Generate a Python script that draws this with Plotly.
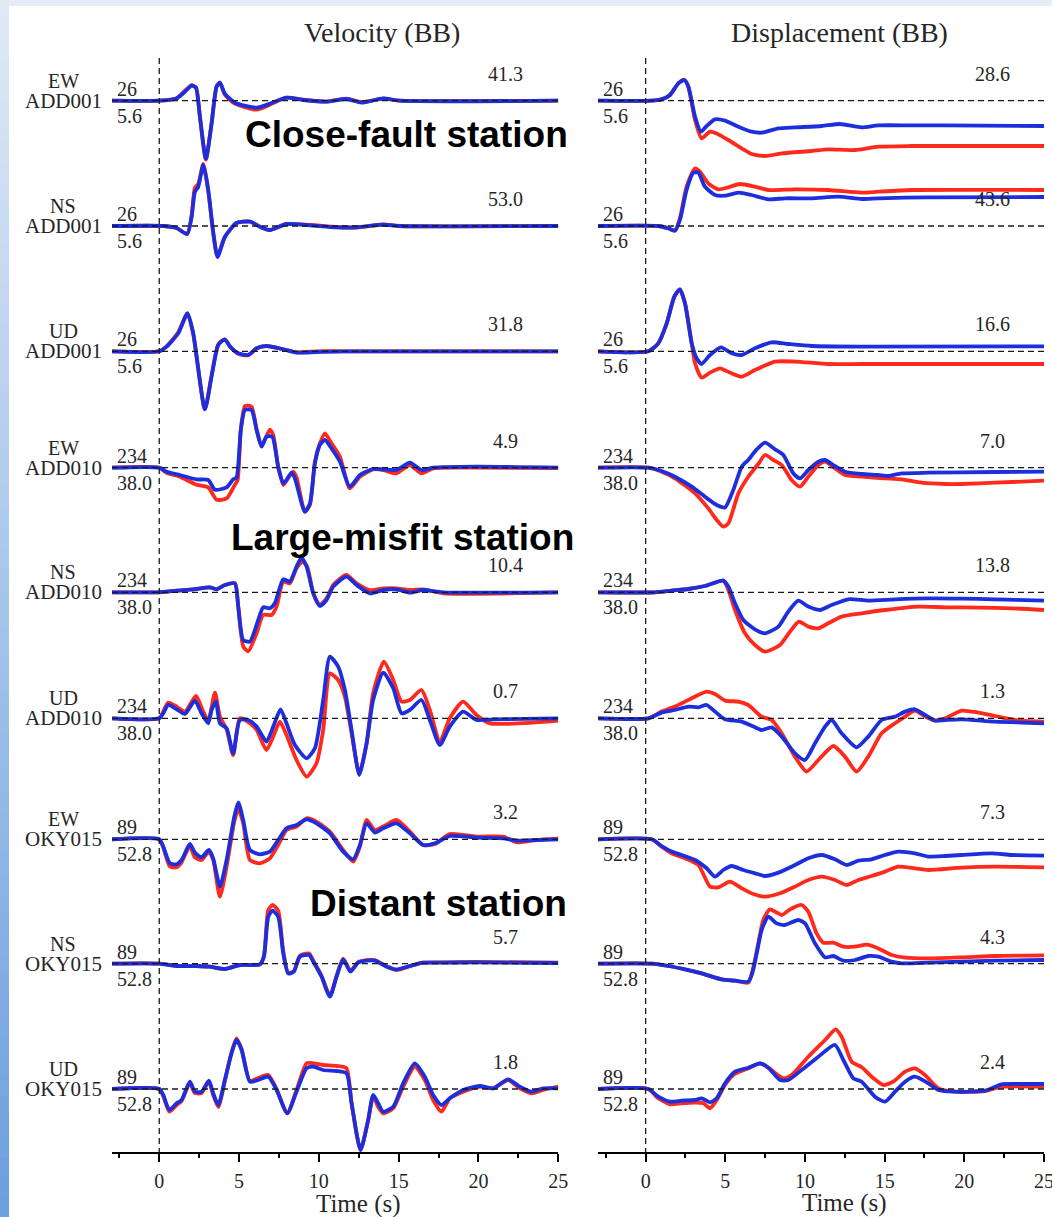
import plotly.graph_objects as go

# ---------------------------------------------------------------------------
# Waveform samples: time (s) and normalised amplitude (display units, ~60 at
# the trace peak).  OBS = observed record (red), SYN = synthetic (blue).
# ---------------------------------------------------------------------------

# ---- Velocity, ADD001 ------------------------------------------------------
VEL_EW_ADD001_T = [-3, 0, 1.09, 1.61, 2.03, 2.30, 2.55, 2.92, 3.28, 3.59, 3.80, 4.11,
                   4.74, 6.10, 6.93, 7.97, 9.02, 10.48, 11.73, 12.67, 14.03, 15.07, 25]
VEL_EW_ADD001_OBS = [0, 0, 2.5, 10, 15.5, 13, -17, -59, -22, 14, 18, 6,
                     -3, -9, -4, 3, 1, -1, 2, -1.5, 2, 0, 0]
VEL_EW_ADD001_SYN = [0, 0, 2.3, 9, 15, 13, -16, -58, -23, 14, 18, 7,
                     -2, -7, -3, 3, 0.7, -1, 1.7, -2, 2.3, 0, 0]

VEL_NS_ADD001_T = [-3, 0.3, 1.09, 1.75, 2.03, 2.23, 2.44, 2.76, 3.07, 3.38, 3.65, 4.11,
                   4.84, 5.68, 6.30, 6.93, 7.97, 9.44, 11.11, 12.36, 14.03, 15.07, 25]
VEL_NS_ADD001_OBS = [0, 0, -2, -8, 11, 38, 42, 62, 35, -7, -30, -11,
                     3, 4.5, -0.5, -4, 2, 1, -1, -1.5, 1.5, 0, 0]
VEL_NS_ADD001_SYN = [0, 0, -2, -8, 9, 34, 39, 61, 36, -6, -31, -11,
                     3, 4.3, -0.7, -4, 2, 0.7, -1.3, -1.3, 1.3, 0, 0]

VEL_UD_ADD001_T = [-3, 0, 0.46, 1.19, 1.77, 2.13, 2.86, 3.28, 3.70, 4.11, 4.43, 4.95,
                   5.57, 6.10, 6.72, 7.77, 8.60, 9.85, 11.52, 25]
VEL_UD_ADD001_OBS = [0, 0, 5, 19, 38, 17, -58, -24, 7, 12, 5, -2.5,
                     -4, 3, 5.5, 2, -1, 0, 0, 0]
VEL_UD_ADD001_SYN = [0, 0, 4.7, 18, 38, 18, -58, -25, 6.3, 12, 4.7, -2,
                     -3.7, 3, 5.3, 2, -1.3, -0.7, 0, 0]

# ---- Velocity, ADD010 ------------------------------------------------------
VEL_EW_ADD010_T_OBS = [-3, 0, 0.46, 1.29, 2.34, 3.07, 3.59, 4.22, 4.74, 4.91, 5.11, 5.37,
                       5.78, 6.10, 6.41, 6.93, 7.14, 7.45, 7.77, 7.97, 8.39, 8.60, 9.12,
                       9.44, 9.75, 10.06, 10.38, 10.79, 11.32, 11.94, 12.57, 13.40, 14.03,
                       14.86, 15.70, 16.43, 17.16, 19.87, 25]
VEL_EW_ADD010_OBS = [0, 0, -5, -9, -17, -19.7, -32, -30.7, -17, -12.3, 38, 61.7,
                     61, 38.3, 21.7, 38, 32.7, 1, -17.3, -13, -4, -9.7, -44,
                     -37, 5.7, 24, 34.3, 24.3, 11, -20.7, -9, -1.7, -2.3,
                     -5.7, 2.7, -5.7, -0.7, 0, -0.3]
VEL_EW_ADD010_T_SYN = [-3, 0, 0.46, 1.29, 2.34, 3.07, 3.49, 4.22, 4.63, 4.84, 5.11, 5.37,
                       5.78, 6.10, 6.41, 6.72, 7.08, 7.45, 7.77, 7.97, 8.29, 8.50, 9.12,
                       9.44, 9.75, 10.06, 10.38, 10.79, 11.32, 11.94, 12.57, 13.40, 14.03,
                       14.86, 15.70, 16.43, 17.16, 19.87, 25]
VEL_EW_ADD010_SYN = [0, 0, -4, -7.3, -11.7, -12.3, -22, -19.7, -11.7, -9.7, 37.7, 57.7,
                     57.7, 37.7, 21, 31, 31, 1, -15.7, -12.3, -5, -10.7, -44,
                     -35.7, 4.3, 22.7, 27.7, 19.3, 6, -19, -7.3, -1.3, -1.7,
                     -2.3, 5, -2.3, 0, 1, 0]

VEL_NS_ADD010_T_OBS = [-3, 0, 1.09, 2.13, 3.17, 3.59, 4.11, 4.74, 4.95, 5.26, 5.57, 6.10,
                       6.51, 7.04, 7.35, 7.77, 8.18, 8.60, 8.98, 9.27, 9.65, 10.06, 10.48,
                       10.90, 11.73, 12.36, 13.19, 14.03, 14.86, 15.70, 16.53, 17.79, 25]
VEL_NS_ADD010_OBS = [0, 0, 1.7, 3, 5, 3, 7.3, 9, -15, -54, -59, -41,
                     -22.7, -22.7, -14.3, 10.7, 9, 24, 30.7, 25.7, -1, -12.7, -6,
                     7.3, 17.3, 9, 2.3, 4, 4, 2.3, 3, -1, 0]
VEL_NS_ADD010_T_SYN = [-3, 0, 1.09, 2.13, 3.17, 3.59, 4.11, 4.74, 4.95, 5.26, 5.68, 6.20,
                       6.51, 6.93, 7.24, 7.77, 8.18, 8.60, 8.91, 9.23, 9.65, 10.06, 10.48,
                       10.90, 11.73, 12.36, 13.19, 14.03, 14.86, 15.70, 16.53, 17.79, 25]
VEL_NS_ADD010_SYN = [0, 0, 1.7, 3, 5, 3, 7.3, 9, -14.3, -47.7, -49.3, -27.7,
                     -15, -16, -11, 13, 10.7, 25.7, 34.7, 25.7, -1, -13.7, -7.7,
                     5.7, 15.7, 7.3, -1, 2.3, 3, -0.3, 2.3, 0, 0]

VEL_UD_ADD010_T_OBS = [-3, 0, 0.25, 0.56, 1.09, 1.61, 2.30, 2.71, 3.07, 3.49, 3.80, 4.22,
                       4.63, 5.05, 5.68, 6.10, 6.72, 7.14, 7.56, 7.97, 8.60, 9.23, 9.85,
                       10.27, 10.69, 11.21, 11.63, 12.05, 12.53, 12.99, 13.40, 14.07, 14.66,
                       15.18, 15.70, 16.43, 16.95, 17.58, 18.20, 19.04, 19.87, 20.71, 25]
VEL_UD_ADD010_OBS = [0, 0, 6.7, 15.7, 11.7, 6.7, 22.3, 8.3, -2.3, 25.7, 1.7, -11,
                     -36.7, 0, -5, -11.7, -31.7, -18.3, -3.3, -16.7, -41.7, -58.3, -45,
                     -11.7, 45, 38.3, 21.7, -15, -55, -25, 25, 56.7, 38.3,
                     16.7, 18.3, 28.3, 8.3, -23.3, 0, 16.7, 3.3, -5, -2.3]
VEL_UD_ADD010_T_SYN = [-3, 0, 0.25, 0.56, 1.09, 1.61, 2.23, 2.65, 3.07, 3.28, 3.55, 3.80,
                       4.22, 4.63, 5.05, 5.57, 6.10, 6.72, 7.14, 7.60, 7.97, 8.50, 9.23,
                       9.75, 10.27, 10.69, 11.21, 11.63, 12.05, 12.53, 12.99, 13.40, 14.03,
                       14.66, 15.18, 15.70, 16.43, 16.95, 17.58, 18.20, 19.04, 19.87, 20.92, 25]
VEL_UD_ADD010_SYN = [0, 0, 5, 13.3, 9, 4.3, 17.7, 5, -5, 8.3, 16.7, -5,
                     -10, -35, -1.7, -1.7, -8.3, -23.3, -8.3, 9, -5, -26.7, -40,
                     -30, 18.3, 61.7, 51.7, 28.3, -11.7, -56.7, -25, 18.3, 45.7,
                     30, 5, 8.3, 18.3, -1.7, -26.7, -8.3, 6.7, -1.7, -1, 0]

# ---- Velocity, OKY015 ------------------------------------------------------
VEL_EW_OKY015_T = [-3, 0, 0.25, 0.67, 1.09, 1.40, 1.92, 2.23, 2.65, 3.11, 3.38, 3.80,
                   4.22, 4.68, 4.95, 5.26, 5.68, 6.30, 6.93, 7.45, 7.97, 8.60, 9.23,
                   9.85, 10.69, 11.52, 12.15, 12.57, 12.99, 13.51, 14.03, 14.86, 15.70,
                   16.53, 17.27, 18.20, 19.87, 21.55, 22.38, 23.63, 25]
VEL_EW_OKY015_OBS = [0, 0, -8, -27.3, -28, -23, -6.7, -18, -20.7, -12.3, -20.7, -57.3,
                     -27.3, 16, 31, 16, -20.7, -24, -19, -5.7, 9.3, 12.7, 21,
                     17.7, 7.7, -10.7, -22.3, -7.3, 19.3, 9.3, 12.7, 19.3, 7.7,
                     -5.7, -4.7, 5.3, 2.7, 2.7, -3, -0.7, 0.7]
VEL_EW_OKY015_SYN = [0, 0, -7.3, -24, -25, -20.7, -4.7, -13.3, -18, -10.7, -19, -47.3,
                     -20.7, 21, 37, 19.3, -10.7, -15, -12.3, -0.7, 11, 14.3, 20,
                     16, 6, -12.3, -20, -5.7, 16, 6.7, 11, 16, 6,
                     -5.7, -4, 3.3, 1.7, 1, -1.3, -0.7, 0]

VEL_NS_OKY015_T = [-3, 0, 1.09, 2.34, 3.17, 4.11, 5.05, 6.30, 6.56, 6.83, 7.10, 7.45,
                   7.77, 8.08, 8.43, 8.81, 9.39, 9.65, 10.17, 10.69, 11.11, 11.52, 11.98,
                   12.46, 12.99, 13.51, 14.24, 14.86, 15.70, 16.53, 17.79, 19.87, 25]
VEL_NS_OKY015_OBS = [0, 0, -2.3, -2.3, -3, -5.3, -1.3, -0.7, 8, 53.7, 58.7, 53,
                     12, -9, -7.5, 8, 10.3, 3, -12, -32, -12, 5, -7,
                     1.5, 3.5, 3.5, -2.5, -6.3, -2.5, 1, 1.3, 1.7, 1]
VEL_NS_OKY015_SYN = [0, 0, -2.3, -2.3, -3, -5.3, -1.3, -0.7, 7, 47, 53, 47,
                     10.3, -9.7, -8, 7, 8.7, 2, -13, -33, -13, 4.3, -8,
                     1, 3, 3, -3, -5.7, -2.3, 1, 1, 1.3, 0.7]

VEL_UD_OKY015_T = [-3, 0, 0.25, 0.63, 1.09, 1.40, 1.92, 2.23, 2.65, 3.11, 3.38, 3.70,
                   4.11, 4.53, 4.84, 5.16, 5.68, 6.20, 6.83, 7.35, 8.02, 8.60, 9.23,
                   9.65, 10.27, 11.11, 11.73, 12.05, 12.61, 13.09, 13.40, 13.72, 14.03,
                   14.66, 15.28, 16.01, 16.64, 17.16, 17.68, 18.20, 19.04, 20.08, 20.92,
                   21.86, 22.59, 23.32, 24.05, 25]
VEL_UD_OKY015_OBS = [0, 0, -7, -22.7, -16, -12, 6, -4, -4, 7, -6, -18,
                     8, 37, 50.7, 40, 8, 11, 14, 0, -24.3, -1, 25.7,
                     25.7, 24, 23, 20.7, -14.3, -61, -31, -7.7, -18, -24.3,
                     -19.3, 2.3, 22.3, 9, -11, -22.7, -9.3, -2.7, 2.3, 0.7,
                     9, 0.7, -4.3, -1, 2.3]
VEL_UD_OKY015_SYN = [0, 0, -6, -21, -14.3, -11, 7.3, -2.7, -2.7, 8.3, -4.3, -16,
                     9, 35.7, 49, 39, 7.3, 9, 12.3, -1, -24.3, -2.7, 20.7,
                     22.3, 19, 18, 15.7, -14.3, -61, -31, -6, -14.3, -22.7,
                     -17.7, 5.7, 25.7, 12.3, -6, -16, -9.3, -1, 3, 0.7,
                     9.7, 2.3, -2.7, 0.7, 0.7]

# ---- Displacement, ADD001 --------------------------------------------------
DIS_EW_ADD001_T_OBS = [-3, 0.38, 1.00, 1.53, 2.05, 2.43, 2.68, 3.10, 3.51, 4.04, 4.46,
                       5.19, 6.03, 6.65, 7.49, 8.54, 10.42, 11.46, 13.14, 14.60, 16.69, 25]
DIS_EW_ADD001_OBS = [0, 0, 1.3, 5.7, 17.3, 20.7, 14, -19.3, -37.7, -31, -32.7,
                     -39.3, -47.7, -53.3, -55.3, -52.7, -50.3, -48.7, -49.3, -46, -45.3, -45.3]
DIS_EW_ADD001_T_SYN = [-3, 0.38, 1.00, 1.53, 2.05, 2.43, 2.68, 3.10, 3.47, 3.83, 4.35,
                       4.98, 5.82, 6.65, 7.28, 8.33, 9.37, 11.05, 12.20, 13.56, 14.60,
                       16.69, 18.79, 25]
DIS_EW_ADD001_SYN = [0, 0, 1.3, 5.7, 17.3, 20.7, 14, -16, -31, -25.3, -18.7,
                     -20, -26, -31, -32, -27.7, -26.7, -25.3, -23.3, -26.7, -24.7,
                     -24.7, -24.7, -25.3]

DIS_NS_ADD001_T_OBS = [-3, 0.79, 1.42, 1.84, 2.15, 2.57, 3.10, 3.41, 3.93, 4.56, 5.19,
                       5.92, 6.86, 7.70, 9.37, 11.46, 13.56, 14.60, 16.69, 25]
DIS_NS_ADD001_OBS = [0, 0, -2.3, -4.7, 7.7, 39.3, 57.7, 54.3, 42.7, 36.7, 38.7,
                     42, 39.3, 36, 36.7, 36, 33.3, 34.3, 36, 36]
DIS_NS_ADD001_T_SYN = [-3, 0.79, 1.42, 1.84, 2.15, 2.57, 2.99, 3.31, 3.72, 4.35, 4.98,
                       5.82, 6.65, 7.70, 8.74, 10.42, 12.09, 13.56, 14.60, 17.74, 25]
DIS_NS_ADD001_SYN = [0, 0, -2.3, -4.7, 6, 36, 53.3, 53.3, 39.3, 31, 30.3,
                     33.3, 31, 26.7, 27.7, 27.7, 29.3, 27, 27.7, 28.7, 29]

DIS_UD_ADD001_T_OBS = [-3, 0.17, 0.79, 1.32, 1.80, 2.15, 2.47, 2.89, 3.10, 3.51, 4.04,
                       4.67, 5.29, 6.03, 6.86, 8.12, 9.37, 11.46, 13.56, 25]
DIS_UD_ADD001_OBS = [0, 0, 8, 28, 54.7, 62, 48, 8, -12, -26.3, -21.3,
                     -17, -21.3, -25.3, -18.7, -10.3, -10.3, -12.7, -12.7, -12.7]
DIS_UD_ADD001_T_SYN = [-3, 0.17, 0.79, 1.32, 1.80, 2.15, 2.47, 2.89, 3.20, 3.51, 4.04,
                       4.73, 5.40, 6.03, 6.86, 7.91, 8.95, 10.42, 13.56, 25]
DIS_UD_ADD001_SYN = [0, 0, 8, 28, 54.7, 62, 48, 8, -7, -12.7, -3.7,
                     4, -2, -3.7, 3, 9, 7.3, 5.3, 4.7, 5]

# ---- Displacement, ADD010 --------------------------------------------------
DIS_EW_ADD010_T_OBS = [-3, 0.17, 1.00, 1.84, 3.10, 3.93, 4.46, 4.87, 5.19, 5.82, 6.44,
                       7.07, 7.49, 8.01, 8.54, 9.16, 9.69, 10.21, 10.84, 11.26, 11.88,
                       12.51, 13.56, 15.02, 16.07, 17.32, 18.79, 19.83, 21.92, 25]
DIS_EW_ADD010_OBS = [0, 0, -4, -10.7, -25.7, -40.7, -52.3, -59, -55.7, -25.7, -9,
                     3.7, 12.7, 7.7, 2.7, -12.3, -19, -9, 2.7, 6, -0.7,
                     -7.3, -9, -10.7, -11.7, -15, -16.3, -16.3, -15, -13]
DIS_EW_ADD010_T_SYN = [-3, 0.17, 1.00, 1.84, 2.89, 3.72, 4.46, 4.98, 5.50, 6.03, 6.44,
                       6.97, 7.49, 8.12, 8.64, 9.27, 9.69, 10.21, 10.84, 11.26, 11.88,
                       12.51, 13.56, 14.60, 15.23, 16.07, 17.74, 21.92, 25]
DIS_EW_ADD010_SYN = [0, 0, -3.3, -9, -19, -29, -37.3, -39.7, -22.3, 1, 7.7,
                     18.3, 25, 18.3, 12.7, -5.7, -10.7, -2.3, 6, 7.7, 1.7,
                     -4, -6.3, -7.3, -8.3, -5.7, -5, -4.3, -4]

DIS_NS_ADD010_T_OBS = [-3, 0.59, 1.63, 2.68, 3.72, 4.87, 5.19, 5.61, 6.23, 6.86, 7.49,
                       8.43, 9.06, 9.62, 10.21, 10.84, 11.46, 12.30, 13.56, 15.02, 17.11,
                       18.79, 20.88, 22.97, 25]
DIS_NS_ADD010_OBS = [0, 0, 1.7, 3.3, 6.3, 11.7, 2.3, -17.7, -41, -52.7, -59.3,
                     -52.7, -39.3, -29.3, -34.3, -36, -31, -24.3, -21, -17.7, -14.3,
                     -15, -15.3, -16, -17.7]
DIS_NS_ADD010_T_SYN = [-3, 0.59, 1.63, 2.68, 3.72, 4.87, 5.19, 5.61, 6.13, 6.86, 7.49,
                       8.33, 8.95, 9.58, 10.21, 10.94, 11.67, 12.72, 13.97, 15.65, 17.74,
                       19.83, 21.92, 25]
DIS_NS_ADD010_SYN = [0, 0, 1.7, 3.3, 6.3, 11.7, 5.7, -11, -27.7, -37, -41,
                     -34.3, -19.3, -8.3, -14.3, -17.7, -12.7, -7, -8.3, -7, -6,
                     -6.3, -7, -8.3]

DIS_UD_ADD010_T_OBS = [-3, 0.17, 1.00, 1.84, 2.89, 3.83, 4.35, 4.98, 5.82, 6.44, 7.28,
                       7.91, 8.54, 9.37, 10.10, 10.84, 11.78, 12.51, 13.24, 13.97, 14.81,
                       15.65, 16.28, 16.90, 17.53, 18.16, 18.79, 19.83, 20.88, 21.92,
                       23.18, 25]
DIS_UD_ADD010_OBS = [0, 0, 6.7, 11.7, 20, 26.7, 24.3, 17.7, 16.7, 13.3, 1.7,
                     -1.7, -15, -38.3, -53.3, -41.7, -27.7, -38.3, -53.3, -38.3, -15,
                     -5, 1.7, 7.7, 2, -2.3, 0, 7.7, 5.7, 2.3,
                     -1.7, -3.3]
DIS_UD_ADD010_T_SYN = [-3, 0.17, 1.00, 1.84, 2.68, 3.31, 3.83, 4.35, 4.98, 6.03, 6.76,
                       7.28, 7.91, 8.54, 9.37, 10.00, 10.63, 11.26, 11.67, 12.30, 13.24,
                       13.97, 14.81, 15.65, 16.28, 16.90, 17.53, 18.16, 18.79, 19.83,
                       21.92, 25]
DIS_UD_ADD010_SYN = [0, 0, 5.7, 8.3, 11.7, 11, 13.3, 6.7, -1, -3.3, -8.3,
                     -11.7, -9, -18.3, -35, -41.7, -25, -8.3, -1.7, -15, -29,
                     -18.3, -1.7, 1.7, 6.7, 9, 3.3, -2.3, -1.7, -1,
                     -3.3, -5]

# ---- Displacement, OKY015 --------------------------------------------------
DIS_EW_OKY015_T_OBS = [-3, 0.38, 1.00, 1.63, 2.47, 3.31, 4.04, 4.56, 5.29, 6.03, 6.76,
                       7.49, 8.43, 9.37, 10.21, 11.05, 11.88, 12.62, 13.35, 14.18, 15.02,
                       15.86, 16.90, 17.74, 19.83, 21.92, 25]
DIS_EW_OKY015_OBS = [0, 0, -7.3, -14, -19, -25.7, -47.3, -48, -42.3, -49, -54.7,
                     -57.3, -54, -47.3, -40.7, -37.3, -40.7, -45.7, -40.7, -36.7, -32.3,
                     -27.3, -29, -30.7, -28.3, -27.3, -28]
DIS_EW_OKY015_T_SYN = [-3, 0.38, 1.00, 1.63, 2.26, 3.10, 3.83, 4.35, 4.87, 5.40, 6.13,
                       6.86, 7.49, 8.33, 9.37, 10.21, 11.05, 11.88, 12.62, 13.35, 14.18,
                       15.02, 15.86, 16.90, 17.74, 18.79, 19.83, 21.72, 22.97, 25]
DIS_EW_OKY015_SYN = [0, 0, -6.7, -12.3, -15.7, -20.7, -29, -37.3, -30.7, -26.7, -30.7,
                     -34, -36.7, -33.3, -25.7, -19, -15.7, -20, -25.7, -21.3, -20,
                     -15.7, -12.3, -14, -17.3, -16.7, -15.7, -14, -15.7, -16.3]

DIS_NS_OKY015_T_OBS = [-3, 0.38, 1.42, 2.47, 3.51, 4.77, 5.61, 6.44, 6.76, 7.07, 7.38,
                       7.80, 8.54, 9.06, 9.79, 10.21, 10.73, 11.15, 11.78, 12.41, 13.14,
                       13.87, 14.60, 15.44, 16.28, 17.74, 19.83, 21.92, 25]
DIS_NS_OKY015_OBS = [0, 0, -2.3, -5.7, -9.7, -15.7, -17, -19, -3.3, 20.3, 43.7,
                     54.3, 48.7, 54.3, 58.7, 52, 30.3, 21, 21, 17, 17,
                     19, 15.3, 8.7, 6, 5.3, 6.3, 7.7, 8.3]
DIS_NS_OKY015_T_SYN = [-3, 0.38, 1.42, 2.47, 3.51, 4.77, 5.61, 6.44, 6.69, 6.97, 7.28,
                       7.70, 8.22, 8.74, 9.58, 10.00, 10.63, 11.26, 11.78, 12.41, 13.14,
                       13.97, 14.60, 15.44, 16.07, 17.74, 19.83, 21.92, 25]
DIS_NS_OKY015_SYN = [0, 0, -2.3, -5.7, -9.7, -15.7, -17, -18, -9.7, 10.3, 33.7,
                     47, 40.3, 38.7, 43.7, 40.3, 20.3, 6.3, 7.7, 3, 3.7,
                     7.7, 7, 2, 0.3, 1, 2, 3, 3.7]

DIS_UD_OKY015_T_OBS = [-3, 0.17, 0.79, 1.53, 2.26, 3.10, 3.62, 4.04, 4.46, 4.98, 5.50,
                       6.44, 7.18, 7.70, 8.64, 9.16, 10.21, 11.26, 11.92, 12.30, 12.93,
                       13.56, 14.18, 14.92, 15.54, 16.28, 16.90, 17.53, 18.37, 19.41,
                       21.30, 22.34, 25]
DIS_UD_OKY015_OBS = [0, 0, -9.3, -15.3, -14.3, -13.7, -14.3, -19.3, -11, 4, 14,
                     20.7, 25.7, 21.3, 10.7, 14, 32.3, 49, 59.7, 52.3, 27.3,
                     21.7, 12.3, 4, 7.3, 17.3, 20.7, 14, 0.7, -2.7,
                     -2, 2.3, 2.3]
DIS_UD_OKY015_T_SYN = [-3, 0.17, 0.79, 1.53, 2.26, 3.10, 3.51, 4.04, 4.46, 4.98, 5.61,
                       6.44, 7.18, 7.70, 8.43, 8.95, 9.79, 10.84, 11.88, 12.41, 13.03,
                       13.56, 14.39, 15.02, 15.65, 16.28, 16.90, 17.74, 18.37, 19.41,
                       21.30, 22.34, 23.60, 25]
DIS_UD_OKY015_SYN = [0, 0, -7.7, -12.7, -11.7, -11, -9.3, -13.3, -9.3, 5.7, 17.3,
                     21.3, 25.7, 21.3, 9, 9, 19, 32.3, 44, 29, 10.7,
                     7.3, -7.7, -12.7, -2.7, 7.3, 12.3, 5.7, -1, -2.7,
                     -1.7, 4.7, 5, 5]

# ---- Row labels -------------------------------------------------------------
COMPONENTS = ["EW", "NS", "UD", "EW", "NS", "UD", "EW", "NS", "UD"]
STATIONS = ["ADD001", "ADD001", "ADD001", "ADD010", "ADD010", "ADD010",
            "OKY015", "OKY015", "OKY015"]
DIST_UPPER = ["26", "26", "26", "234", "234", "234", "89", "89", "89"]
DIST_LOWER = ["5.6", "5.6", "5.6", "38.0", "38.0", "38.0", "52.8", "52.8", "52.8"]
VEL_PEAK = ["41.3", "53.0", "31.8", "4.9", "10.4", "0.7", "3.2", "5.7", "1.8"]
DIS_PEAK = ["28.6", "43.6", "16.6", "7.0", "13.8", "1.3", "7.3", "4.3", "2.4"]
TIME_TICKS = [0, 5, 10, 15, 20, 25]
TIME_MINOR = [-2.5, 2.5, 7.5, 12.5, 17.5, 22.5]
GROUP_NOTES = ["Close-fault station", "Large-misfit station", "Distant station"]

# ---------------------------------------------------------------------------
# Layout constants (pixels in a 1052 x 1217 page)
# ---------------------------------------------------------------------------
W, H = 1052, 1217
AXIS_PX = 1152                     # bottom time axis line
ROW_BASE_PX = [100.7, 226, 351.3, 467.7, 592.3, 718.3, 839.3, 963.7, 1089]
LEFT_X = (112, 558.3)              # velocity column, pixel extent
RIGHT_X = (598, 1044)              # displacement column, pixel extent
X_RANGE_L = [-2.96, 25]
X_RANGE_R = [-2.99, 25]

RED = "#ff2a1c"
BLUE = "#1d2fdc"
TEXT = "#262626"
SERIF = "Liberation Serif, Times New Roman, serif"
SANS = "Liberation Sans, Arial, sans-serif"

VEL_PANELS = [
    (VEL_EW_ADD001_T, VEL_EW_ADD001_OBS, VEL_EW_ADD001_T, VEL_EW_ADD001_SYN),
    (VEL_NS_ADD001_T, VEL_NS_ADD001_OBS, VEL_NS_ADD001_T, VEL_NS_ADD001_SYN),
    (VEL_UD_ADD001_T, VEL_UD_ADD001_OBS, VEL_UD_ADD001_T, VEL_UD_ADD001_SYN),
    (VEL_EW_ADD010_T_OBS, VEL_EW_ADD010_OBS, VEL_EW_ADD010_T_SYN, VEL_EW_ADD010_SYN),
    (VEL_NS_ADD010_T_OBS, VEL_NS_ADD010_OBS, VEL_NS_ADD010_T_SYN, VEL_NS_ADD010_SYN),
    (VEL_UD_ADD010_T_OBS, VEL_UD_ADD010_OBS, VEL_UD_ADD010_T_SYN, VEL_UD_ADD010_SYN),
    (VEL_EW_OKY015_T, VEL_EW_OKY015_OBS, VEL_EW_OKY015_T, VEL_EW_OKY015_SYN),
    (VEL_NS_OKY015_T, VEL_NS_OKY015_OBS, VEL_NS_OKY015_T, VEL_NS_OKY015_SYN),
    (VEL_UD_OKY015_T, VEL_UD_OKY015_OBS, VEL_UD_OKY015_T, VEL_UD_OKY015_SYN),
]
DIS_PANELS = [
    (DIS_EW_ADD001_T_OBS, DIS_EW_ADD001_OBS, DIS_EW_ADD001_T_SYN, DIS_EW_ADD001_SYN),
    (DIS_NS_ADD001_T_OBS, DIS_NS_ADD001_OBS, DIS_NS_ADD001_T_SYN, DIS_NS_ADD001_SYN),
    (DIS_UD_ADD001_T_OBS, DIS_UD_ADD001_OBS, DIS_UD_ADD001_T_SYN, DIS_UD_ADD001_SYN),
    (DIS_EW_ADD010_T_OBS, DIS_EW_ADD010_OBS, DIS_EW_ADD010_T_SYN, DIS_EW_ADD010_SYN),
    (DIS_NS_ADD010_T_OBS, DIS_NS_ADD010_OBS, DIS_NS_ADD010_T_SYN, DIS_NS_ADD010_SYN),
    (DIS_UD_ADD010_T_OBS, DIS_UD_ADD010_OBS, DIS_UD_ADD010_T_SYN, DIS_UD_ADD010_SYN),
    (DIS_EW_OKY015_T_OBS, DIS_EW_OKY015_OBS, DIS_EW_OKY015_T_SYN, DIS_EW_OKY015_SYN),
    (DIS_NS_OKY015_T_OBS, DIS_NS_OKY015_OBS, DIS_NS_OKY015_T_SYN, DIS_NS_OKY015_SYN),
    (DIS_UD_OKY015_T_OBS, DIS_UD_OKY015_OBS, DIS_UD_OKY015_T_SYN, DIS_UD_OKY015_SYN),
]


def px_x(x):
    return x / W


def px_y(y):
    return 1 - y / H


fig = go.Figure()


def add_trace(t, amp, base, color, xa, ya):
    fig.add_trace(go.Scatter(
        x=t, y=[a - base for a in amp], xaxis=xa, yaxis=ya, mode="lines",
        line=dict(color=color, width=3.8, shape="spline", smoothing=0.6),
        hoverinfo="skip", showlegend=False))


for panels, xa, ya in ((VEL_PANELS, "x", "y"), (DIS_PANELS, "x2", "y2")):
    for base, (t_obs, a_obs, t_syn, a_syn) in zip(ROW_BASE_PX, panels):
        add_trace(t_obs, a_obs, base, RED, xa, ya)
        add_trace(t_syn, a_syn, base, BLUE, xa, ya)

shapes = []
# page background: light band on top, blue gradient strip on the left
shapes.append(dict(type="rect", xref="paper", yref="paper", x0=0, x1=1,
                   y0=px_y(6), y1=1, fillcolor="#e7edf6", line_width=0, layer="below"))
N_STRIP = 60
c_top = (222, 233, 246)
c_bot = (108, 160, 222)
for i in range(N_STRIP):
    f = i / (N_STRIP - 1)
    col = tuple(round(c_top[k] + (c_bot[k] - c_top[k]) * f) for k in range(3))
    shapes.append(dict(type="rect", xref="paper", yref="paper",
                       x0=0, x1=px_x(9),
                       y0=px_y(H * (i + 1) / N_STRIP) - 0.0005, y1=px_y(H * i / N_STRIP),
                       fillcolor="rgb(%d,%d,%d)" % col, line_width=0, layer="below"))

DASH = dict(color="#1a1a1a", width=1.3, dash="6px,4px")
for xa, ya, xr in (("x", "y", X_RANGE_L), ("x2", "y2", X_RANGE_R)):
    for base in ROW_BASE_PX:
        shapes.append(dict(type="line", xref=xa, yref=ya, x0=xr[0], x1=xr[1],
                           y0=-base, y1=-base, line=DASH, layer="above"))
    shapes.append(dict(type="line", xref=xa, yref=ya, x0=0, x1=0,
                       y0=-58, y1=-AXIS_PX, line=DASH, layer="above"))

ann = []


def text(x, y, s, size, family=SERIF, xanchor="center", color=TEXT, bold=False):
    ann.append(dict(x=px_x(x), y=px_y(y), xref="paper", yref="paper",
                    text="<b>%s</b>" % s if bold else s, showarrow=False,
                    xanchor=xanchor, yanchor="middle",
                    font=dict(family=family, size=size, color=color)))


text(382, 32, "Velocity (BB)", 28)
text(839, 32, "Displacement (BB)", 28)

for i, base in enumerate(ROW_BASE_PX):
    text(63, base - 20, COMPONENTS[i], 20)
    text(63, base, STATIONS[i], 21)
    for x0 in (115, 601):
        text(x0, base - 12, DIST_UPPER[i], 20, xanchor="left")
        text(x0, base + 15, DIST_LOWER[i], 20, xanchor="left")
    text(505.5, base - 27, VEL_PEAK[i], 20)
    text(992.5, base - 27, DIS_PEAK[i], 20)

text(406, 135, GROUP_NOTES[0], 37, family=SANS, color="black", bold=True)
text(402, 537, GROUP_NOTES[1], 37, family=SANS, color="black", bold=True)
text(438.5, 904, GROUP_NOTES[2], 37, family=SANS, color="black", bold=True)

text(358.8, 1204, "Time (s)", 25)
text(844.8, 1203, "Time (s)", 25)


def time_axis(domain, rng, anchor):
    return dict(domain=domain, range=rng, anchor=anchor, showline=True, automargin=False,
                linecolor="black", linewidth=2, ticks="outside", tickvals=TIME_TICKS,
                ticklen=8, tickwidth=1.5, tickcolor="black", showgrid=False,
                zeroline=False, fixedrange=True, ticklabelstandoff=2,
                ticklabeloverflow="allow",
                tickfont=dict(family=SERIF, size=20, color=TEXT),
                minor=dict(tickvals=TIME_MINOR, ticks="outside", ticklen=4,
                           tickwidth=1.5, tickcolor="black", showgrid=False))


def amp_axis():
    return dict(domain=[(H - AXIS_PX) / H, 1], range=[-AXIS_PX, 0], visible=False,
                automargin=False, fixedrange=True)


fig.update_layout(
    width=W, height=H, margin=dict(l=0, r=0, t=0, b=0, autoexpand=False),
    paper_bgcolor="white", plot_bgcolor="rgba(0,0,0,0)",
    xaxis=time_axis([px_x(LEFT_X[0]), px_x(LEFT_X[1])], X_RANGE_L, "y"),
    xaxis2=time_axis([px_x(RIGHT_X[0]), px_x(RIGHT_X[1])], X_RANGE_R, "y2"),
    yaxis=amp_axis(), yaxis2=amp_axis(),
    shapes=shapes, annotations=ann, showlegend=False,
)

fig.write_html("out.html")
